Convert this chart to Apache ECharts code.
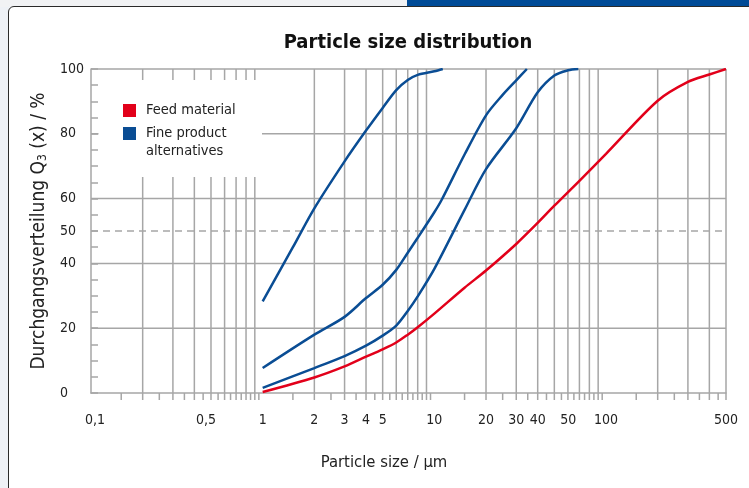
<!DOCTYPE html>
<html>
<head>
<meta charset="utf-8">
<script src="https://cdn.jsdelivr.net/npm/echarts@6/dist/echarts.min.js"></script>
<style>
  html, body { margin: 0; padding: 0; }
  body { width: 749px; height: 488px; background: #eef1f6; position: relative; overflow: hidden; }
  .topstrip { position: absolute; left: 0; top: 0; width: 749px; height: 7px; background: #f1f2f4; }
  .bluebar { position: absolute; left: 407px; top: 0; width: 342px; height: 6px; background: #004b97; }
  .card { position: absolute; left: 8px; top: 6px; width: 780px; height: 520px; background: #fff;
          border: 1.5px solid #2a2a2a; border-radius: 6px; }
  #chart { position: absolute; left: 0; top: 0; width: 749px; height: 488px; }
</style>
</head>
<body>
<div class="topstrip"></div>
<div class="bluebar"></div>
<div class="card"></div>
<div id="chart"></div>
<script>
// cumulative distribution Q3(x) in %, x = particle size in µm
const feedX = [1, 2, 3, 4, 5, 6, 7, 8, 10, 15, 20, 30, 40, 50, 70, 100, 200, 300, 400, 500];
const feedY = [0.3, 4.8, 8.2, 11.2, 13.5, 15.6, 18, 20.3, 24.5, 32.5, 37.8, 46, 52.5, 57.8, 65.5, 73.8, 90.2, 96, 98.3, 100];

const fineAX = [1, 1.5, 2, 3, 4, 5, 6, 7, 8, 10, 11.2];
const fineAY = [28.3, 45, 57, 71.5, 81, 88, 93.5, 96.6, 98.2, 99.3, 100];

const fineBX = [1, 2, 3, 4, 5, 6, 7, 8, 10, 11, 15, 20, 25, 30, 34.6];
const fineBY = [7.7, 18, 23.5, 29.3, 33.4, 38, 43.3, 47.9, 55.8, 59.5, 73.6, 85.7, 92, 96.5, 100];

const fineCX = [1, 2, 3, 4, 5, 6, 7, 8, 10, 15, 20, 30, 40, 50, 60, 69];
const fineCY = [1.6, 7.7, 11.4, 14.6, 17.7, 20.8, 25.3, 29.8, 38.3, 56.5, 69.1, 81.7, 92.8, 98, 99.6, 100];

// axis ticks
const xTickVals = [0.1, 0.5, 1, 2, 3, 4, 5, 10, 20, 30, 40, 50, 100, 500];
const xTickText = ['0,1', '0,5', '1', '2', '3', '4', '5', '10', '20', '30', '40', '50', '100', '500'];
const yTickVals = [0, 20, 40, 50, 60, 80, 100];
const yGridVals = [20, 40, 50, 60, 80, 100];

// small horizontal shifts of a few labels, as set in the original figure
const labelNudge = { '0,1': 4, '0,5': -5, '50': 14 };

// log paper lines: full lines at 2..9 x decade, short ticks at the half steps
const decades = [0.1, 1, 10, 100];
const xGridVals = [];
const xHalfVals = [];
decades.forEach(d => {
  for (let m = 1; m <= 9; m++) {
    if (m > 1 && d * m <= 500) xGridVals.push(+(d * m).toFixed(2));
    if (d * (m + 0.5) < 500) xHalfVals.push(+(d * (m + 0.5)).toFixed(3));
  }
});

const FONT = '"Liberation Sans Narrow", "DejaVu Sans Condensed", "Roboto Condensed", sans-serif';
const GRID = '#a6a6a6';
const RED = '#e2001a';
const BLUE = '#0a4d94';

const chart = echarts.init(document.getElementById('chart'));

function pairs(xs, ys) {
  return xs.map((x, i) => [x, ys[i]]);
}

function vLine(params, api) {
  const v = api.value(0);
  const top = api.coord([v, 100]);
  const bot = api.coord([v, 0]);
  return {
    type: 'line',
    shape: { x1: top[0], y1: top[1], x2: bot[0], y2: bot[1] + 7 },
    style: { stroke: GRID, lineWidth: 1.5 }
  };
}

function halfTick(params, api) {
  const bot = api.coord([api.value(0), 0]);
  return {
    type: 'line',
    shape: { x1: bot[0], y1: bot[1], x2: bot[0], y2: bot[1] + 7 },
    style: { stroke: GRID, lineWidth: 1.5 }
  };
}

function hLine(params, api) {
  const v = api.value(1);
  const a = api.coord([0.1, v]);
  const b = api.coord([500, v]);
  return {
    type: 'line',
    shape: { x1: a[0], y1: a[1], x2: b[0], y2: b[1] },
    style: { stroke: GRID, lineWidth: 1.5, lineDash: v === 50 ? [7, 5] : null }
  };
}

function xLabel(params, api) {
  const p = api.coord([api.value(0), 0]);
  const text = xTickText[params.dataIndex];
  return {
    type: 'text',
    x: p[0] + (labelNudge[text] || 0),
    y: p[1] + 27,
    style: {
      text: text,
      fill: '#222',
      font: '14px ' + FONT,
      align: 'center',
      verticalAlign: 'middle'
    }
  };
}

const legendText = { fontFamily: FONT, fontSize: 14.5, color: '#222', lineHeight: 18, padding: [0, 0, 0, 5] };

const option = {
  animation: false,
  title: [
    {
      text: 'Particle size distribution',
      left: 408, top: 33, padding: 0, textAlign: 'center',
      textStyle: { fontFamily: FONT, fontWeight: 'bold', fontSize: 20, color: '#111' }
    },
    {
      text: 'Particle size / µm',
      left: 384, top: 454, padding: 0, textAlign: 'center',
      textStyle: { fontFamily: FONT, fontWeight: 'normal', fontSize: 16.5, color: '#222' }
    }
  ],
  legend: [
    {
      data: ['Feed material'],
      orient: 'vertical', left: 123, top: 101.5, padding: 0, z: 5,
      icon: 'rect', itemWidth: 13, itemHeight: 13, selectedMode: false,
      textStyle: legendText
    },
    {
      data: ['Fine product alternatives'],
      // blank first line keeps "Fine product" level with the square
      formatter: name => '\n' + name.replace(' alternatives', '\nalternatives'),
      orient: 'vertical', left: 123, top: 106.5, padding: 0, z: 5,
      icon: 'rect', itemWidth: 13, itemHeight: 13, selectedMode: false,
      textStyle: legendText
    }
  ],
  graphic: {
    elements: [
      { type: 'rect', z: 4, shape: { x: 98.5, y: 80, width: 163.5, height: 97 }, style: { fill: '#fff' } }
    ]
  },
  grid: { left: 91, top: 69, width: 635, height: 324 },
  xAxis: {
    type: 'log',
    logBase: 10,
    min: 0.1,
    max: 500,
    axisLine: { show: true, lineStyle: { color: GRID, width: 1.5 } },
    axisTick: { show: false },
    axisLabel: { show: false },
    splitLine: { show: false }
  },
  yAxis: {
    type: 'value',
    min: 0,
    max: 100,
    interval: 5,
    name: 'Durchgangsverteilung Q{sub|3} (x) / %',
    nameLocation: 'middle',
    nameGap: 42,
    nameRotate: 90,
    nameTextStyle: {
      fontFamily: FONT, fontSize: 19, color: '#222',
      rich: { sub: { fontFamily: FONT, fontSize: 12, color: '#222', padding: [8, 0, 0, 0] } }
    },
    axisLine: { show: true, lineStyle: { color: GRID, width: 1.5 } },
    axisTick: { show: true, inside: true, length: 7, lineStyle: { color: GRID, width: 1.5 } },
    axisLabel: {
      margin: 31,
      align: 'left',
      fontFamily: FONT,
      fontSize: 14,
      color: '#222',
      formatter: v => (yTickVals.includes(v) ? String(v) : '')
    },
    splitLine: { show: false }
  },
  series: [
    { type: 'custom', name: 'vgrid', z: 1, silent: true, clip: false, renderItem: vLine,
      data: xGridVals.map(v => [v, 0]) },
    { type: 'custom', name: 'halfticks', z: 1, silent: true, clip: false, renderItem: halfTick,
      data: xHalfVals.map(v => [v, 0]) },
    { type: 'custom', name: 'hgrid', z: 1, silent: true, clip: false, renderItem: hLine,
      data: yGridVals.map(v => [0.1, v]) },
    { type: 'custom', name: 'xlabels', z: 1, silent: true, clip: false, renderItem: xLabel,
      data: xTickVals.map(v => [v, 0]) },
    {
      name: 'Feed material', type: 'line', z: 3, smooth: 0.3, showSymbol: false,
      itemStyle: { color: RED }, lineStyle: { color: RED, width: 2.5 },
      data: pairs(feedX, feedY)
    },
    {
      name: 'Fine product alternatives', type: 'line', z: 3, smooth: 0.3, showSymbol: false,
      itemStyle: { color: BLUE }, lineStyle: { color: BLUE, width: 2.5 },
      data: pairs(fineAX, fineAY)
    },
    {
      name: 'Fine product alternatives', type: 'line', z: 3, smooth: 0.3, showSymbol: false,
      itemStyle: { color: BLUE }, lineStyle: { color: BLUE, width: 2.5 },
      data: pairs(fineBX, fineBY)
    },
    {
      name: 'Fine product alternatives', type: 'line', z: 3, smooth: 0.3, showSymbol: false,
      itemStyle: { color: BLUE }, lineStyle: { color: BLUE, width: 2.5 },
      data: pairs(fineCX, fineCY)
    }
  ]
};

chart.setOption(option);
</script>
</body>
</html>
